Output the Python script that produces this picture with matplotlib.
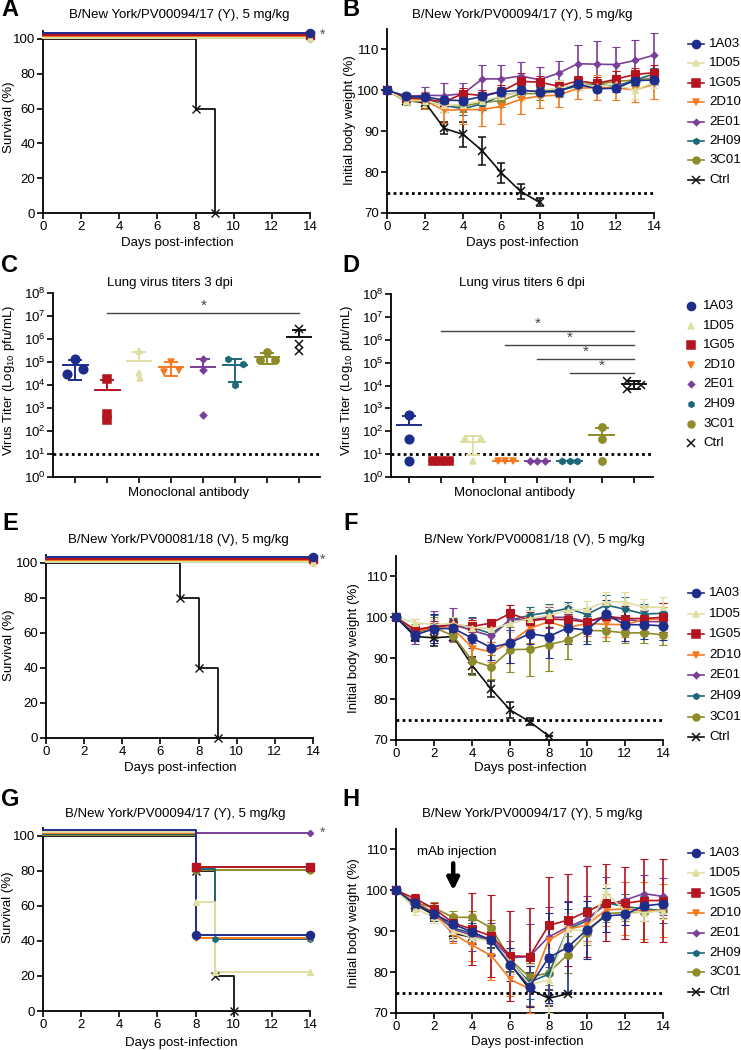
import numpy as np
import matplotlib
matplotlib.use('Agg')
import matplotlib.pyplot as plt
from matplotlib.lines import Line2D
from matplotlib.ticker import FixedLocator, NullFormatter

plt.rcParams['font.family'] = ['Liberation Sans', 'DejaVu Sans']
plt.rcParams['mathtext.fontset'] = 'custom'
plt.rcParams['mathtext.rm'] = 'Liberation Sans'
plt.rcParams['mathtext.it'] = 'Liberation Sans:italic'
plt.rcParams['mathtext.default'] = 'regular'

# ------------------------------------------------------------------ data
groups = ['1A03', '1D05', '1G05', '2D10', '2E01', '2H09', '3C01', 'Ctrl']
titer_order = ['1A03', '1G05', '1D05', '2D10', '2E01', '2H09', '3C01', 'Ctrl']
days = list(range(15))

# survival: event days and survival (%)
A_surv_days = {g: [0] for g in groups[:-1]}
A_surv_vals = {g: [100] for g in groups[:-1]}
A_surv_days['Ctrl'] = [0, 8, 9]
A_surv_vals['Ctrl'] = [100, 60, 0]

E_surv_days = {g: [0] for g in groups[:-1]}
E_surv_vals = {g: [100] for g in groups[:-1]}
E_surv_days['Ctrl'] = [0, 7, 8, 9]
E_surv_vals['Ctrl'] = [100, 80, 40, 0]

G_surv_days = {'1A03': [0, 8], '1D05': [0, 8, 9], '1G05': [0, 8], '2D10': [0, 8],
               '2E01': [0], '2H09': [0, 8, 9], '3C01': [0, 8], 'Ctrl': [0, 8, 9, 10]}
G_surv_vals = {'1A03': [100, 40], '1D05': [100, 60, 20], '1G05': [100, 80], '2D10': [100, 40],
               '2E01': [100], '2H09': [100, 80, 40], '3C01': [100, 80], 'Ctrl': [100, 80, 20, 0]}

# body weight (%), mean and SD
B_mean = {
    '1A03': [100, 98.6, 98.4, 97.6, 97.5, 98.5, 99.7, 100, 99.7, 99.7, 101.5, 100.4, 100.5, 102.4, 102.5],
    '1D05': [100, 97.5, 97.5, 96.3, 96.5, 97.5, 98.5, 99.7, 100, 100.5, 101.5, 101, 101.5, 100, 102],
    '1G05': [100, 98.2, 97.8, 97.2, 99.2, 98.7, 99.7, 102.2, 102, 101, 102.3, 101.7, 102.7, 103.9, 104.3],
    '2D10': [100, 98, 97.5, 95.1, 95.3, 95.3, 96.1, 97.8, 98.6, 98.8, 100.5, 100.7, 100.6, 100.1, 101.5],
    '2E01': [100, 98.5, 98.8, 98.7, 99.2, 102.8, 102.8, 103.5, 102.6, 104.2, 106.5, 106.4, 106.3, 107.3, 108.6],
    '2H09': [100, 98.2, 98.2, 96.3, 95.5, 96.7, 98.7, 99.6, 100, 100, 101, 101.5, 101, 102.5, 104],
    '3C01': [100, 97.3, 97.5, 96.3, 96.2, 97, 97.5, 99.2, 99.2, 99.8, 101.5, 101.5, 102.2, 102.5, 103],
    'Ctrl': [100, 97.5, 97, 90.7, 89.2, 85.2, 79.8, 75.3, 72.6],
}
B_sd = {
    '1A03': [0, 0.8, 1, 1.2, 1.2, 1.2, 1.2, 1, 1.2, 1.2, 1, 0.8, 1, 1.2, 1.2],
    '1D05': [0, 1, 1.5, 1.5, 1.5, 1.5, 1.5, 2, 1.5, 2, 1.5, 1.5, 1.5, 2, 1.5],
    '1G05': [0, 1, 1, 1, 1.3, 1.3, 1.5, 2, 1.5, 1.5, 1.2, 1.5, 2, 1.5, 2],
    '2D10': [0, 1, 2, 3, 3.5, 4, 4.3, 3.5, 3, 2.8, 2.5, 3, 3, 3, 3.5],
    '2E01': [0, 0.8, 2, 3, 2.5, 3.3, 3.3, 3.5, 3, 3, 4.5, 5.7, 4.2, 5, 5.5],
    '2H09': [0, 1, 1.5, 1.5, 1.5, 1.5, 1.5, 1.2, 1, 1, 1, 1, 1, 1.2, 1.5],
    '3C01': [0, 1, 1, 1.5, 1.5, 1.5, 1.5, 1.5, 1.5, 1.5, 1.5, 1, 1.5, 1.5, 1.5],
    'Ctrl': [0, 1, 1.5, 1.5, 3, 3.5, 2.5, 1.8, 1],
}

F_mean = {
    '1A03': [100, 95.7, 97.2, 97.3, 94.9, 92.6, 93.8, 96, 95.3, 97.4, 96.9, 100.8, 98.2, 98.2, 97.9],
    '1D05': [100, 98.7, 98.2, 98.5, 97.5, 97.2, 98.5, 99.7, 100.5, 101.7, 102, 103.8, 103.8, 102.5, 102.5],
    '1G05': [100, 97, 97.7, 98.1, 97.8, 98.6, 101, 99.2, 99.6, 99.4, 98.9, 100.3, 99.7, 99.7, 100],
    '2D10': [100, 96.5, 97.5, 97.2, 92.6, 91.5, 93.9, 97.3, 98.9, 97.5, 98.5, 98.3, 98.2, 99.5, 99.5],
    '2E01': [100, 96.5, 98, 98.2, 96.8, 95.4, 99.5, 99.3, 100, 100, 99, 99.8, 99.5, 99, 98.9],
    '2H09': [100, 96.3, 97.5, 98.3, 97.5, 96, 99.3, 100.5, 101.2, 102.2, 100.7, 103, 102, 100.8, 101],
    '3C01': [100, 96.3, 97.5, 95.5, 89.4, 87.9, 92.1, 92.2, 93.3, 94.4, 96.8, 96.7, 96.2, 96.2, 95.7],
    'Ctrl': [100, 95.3, 95, 95.3, 88.2, 82.4, 77.3, 74.5, 71],
}
F_sd = {
    '1A03': [0, 1.5, 3.5, 2, 2.5, 3, 5, 2.5, 5.3, 4, 3.5, 3.5, 4, 3.5, 3.5],
    '1D05': [0, 1, 1.5, 1.5, 1.5, 1.5, 2, 2, 2.5, 1.5, 2, 2.5, 2.5, 2, 2.5],
    '1G05': [0, 1, 1.5, 1.5, 1.5, 1, 2, 2, 2, 1.5, 2, 3, 3, 3, 3.5],
    '2D10': [0, 1.5, 2, 1.5, 3, 2.5, 5, 3.5, 3, 3, 3, 3, 3, 3, 3],
    '2E01': [0, 3, 3.5, 4, 3, 2.5, 2.5, 2.5, 2.5, 2.5, 3, 3, 2.5, 2.5, 2.5],
    '2H09': [0, 1.5, 3, 1.5, 2.5, 2, 2.5, 2, 2, 1.5, 1.5, 2.5, 3, 2.5, 2.5],
    '3C01': [0, 2, 2.5, 1.5, 3.5, 3, 5.5, 6.5, 6.5, 4.5, 2.5, 2.5, 2.5, 2.5, 2.5],
    'Ctrl': [0, 1, 2, 1, 2, 2, 2, 0.8, 0],
}

H_mean = {
    '1A03': [100, 96.8, 94.3, 91.7, 89.8, 87.8, 81.8, 76.4, 83.5, 86.1, 90.3, 93.7, 94.1, 96.2, 96.7],
    '1D05': [100, 95.5, 93.5, 90, 88.5, 87.5, 82.5, 77, 78, 90.5, 90, 99.5, 95, 94.5, 95],
    '1G05': [100, 98, 95.5, 92, 90.5, 88.8, 84, 83.8, 91.4, 92.7, 94.8, 97, 96.8, 97.5, 97.5],
    '2D10': [100, 97, 94.5, 89.3, 86.6, 84, 78.2, 75.9, 87.8, 90.5, 91.5, 95.2, 95.5, 95, 95],
    '2E01': [100, 97, 94.5, 90.5, 89, 88, 83.5, 83.8, 88.6, 91, 93, 96.5, 97.6, 99.2, 98.5],
    '2H09': [100, 96.5, 94.5, 90.8, 89.5, 87.5, 82.5, 77.5, 79.5, 90.5, 92.5, 97, 96, 95.5, 95],
    '3C01': [100, 97, 95.7, 93.4, 93.4, 90.8, 83, 78.8, 79.8, 84.3, 89.6, 94.3, 94.6, 94.6, 95.2],
    'Ctrl': [100, 96.5, 94, 89.5, 88.5, 87.8, 82, 75.8, 73.6, 74.7],
}
H_sd = {
    '1A03': [0, 1, 1, 2, 3, 3.5, 4, 5, 11, 11, 7, 4, 2.5, 2, 2],
    '1D05': [0, 1.5, 1.5, 2, 2, 2, 3, 5, 8, 4, 3, 2, 2, 2, 2],
    '1G05': [0, 1, 1.5, 2, 8.8, 10, 11, 12, 11.8, 11.2, 11.2, 9.5, 8.8, 10.1, 10.1],
    '2D10': [0, 1, 1.5, 2.2, 4, 6, 4, 6, 4, 4, 4, 4, 6.5, 7, 6.5],
    '2E01': [0, 1, 1.5, 3, 3.8, 4, 4, 8, 7.3, 6.5, 5.5, 6.8, 4.5, 4.5, 4.5],
    '2H09': [0, 1, 1.5, 2, 2.5, 3, 3, 4, 5, 5, 3.5, 3.5, 3, 3, 3],
    '3C01': [0, 1.5, 1.5, 1.5, 1.5, 2, 3, 3.5, 3, 4.5, 3, 2, 2, 2, 2],
    'Ctrl': [0, 1.5, 1.5, 1.5, 1.5, 2, 2, 4, 2, 0],
}

# lung titers (pfu/mL), individual mice
C_titer = {
    '1A03': [3.1e4, 1.35e5, 5.0e4],
    '1G05': [1.8e4, 560, 310],
    '1D05': [2.9e5, 3.3e4, 2.0e4],
    '2D10': [3.5e4, 1.05e5, 4.5e4],
    '2E01': [1.35e5, 4.7e4, 480],
    '2H09': [1.35e5, 1.03e4, 8.5e4],
    '3C01': [1.2e5, 2.6e5, 1.17e5],
    'Ctrl': [2.6e6, 6.3e5, 2.9e5],
}
D_titer = {
    '1A03': [490, 47, 5],
    '1G05': [5, 5, 5],
    '1D05': [50, 5, 50],
    '2D10': [5, 5, 5],
    '2E01': [5, 5, 5],
    '2H09': [5, 5, 5],
    '3C01': [148, 47, 5],
    'Ctrl': [1.6e4, 7.0e3, 1.1e4],
}
LOD = 10
C_sig = [(1, 7, 1.35e7)]
D_sig = [(1, 7, 2.4e6), (3, 7, 5.8e5), (4, 7, 1.4e5), (5, 7, 3.5e4)]

# ------------------------------------------------------------------ styles
colors = {'1A03': '#1F2D8A', '1D05': '#E0DFA3', '1G05': '#B3141E', '2D10': '#F7791F',
          '2E01': '#7A3F98', '2H09': '#1C6878', '3C01': '#8E8B2A', 'Ctrl': '#111111'}
mk = {'1A03': 'o', '1D05': '^', '1G05': 's', '2D10': 'v', '2E01': 'D', '2H09': 'h',
      '3C01': 'o', 'Ctrl': 'x'}
ms = {'1A03': 6.5, '1D05': 5, '1G05': 6, '2D10': 5, '2E01': 3.5, '2H09': 4.5,
      '3C01': 5.5, 'Ctrl': 6}
surv_offset_AE = {'1A03': 3.3, '2E01': 2.8, '1G05': 2.3, '2D10': 1.8, '2H09': 1.2,
                  '1D05': 0.7, '3C01': 0.3, 'Ctrl': 0}
surv_offset_G = {'1A03': 3.3, '1D05': 2.5, '1G05': 2.3, '2D10': 1.8, '2E01': 1.5,
                 '2H09': 1.0, '3C01': 0.4, 'Ctrl': 0}
C_jit = {'1A03': [-0.26, 0, 0.24], '1G05': [0, 0, 0], '1D05': [0, -0.02, 0.03],
         '2D10': [-0.23, 0, 0.24], '2E01': [0, 0, 0], '2H09': [-0.24, 0, 0.24],
         '3C01': [-0.23, 0, 0.23], 'Ctrl': [0, 0, 0]}
D_jit = {'1A03': [0, 0, 0], '1G05': [-0.24, 0, 0.24], '1D05': [-0.24, 0, 0.24],
         '2D10': [-0.24, 0, 0.24], '2E01': [-0.24, 0, 0.24], '2H09': [-0.24, 0, 0.24],
         '3C01': [0, 0, 0], 'Ctrl': [-0.21, -0.21, 0.23]}

W, H = 741, 1050
fig = plt.figure(figsize=(W / 100, H / 100), dpi=100)
FS = 9
TFS = 9.5


def fx(px):
    return px / W


def fy(py):
    return 1 - py / H


def add_ax(x0, y0, x1, y1):
    return fig.add_axes([x0 / W, 1 - y1 / H, (x1 - x0) / W, (y1 - y0) / H])


def style(ax):
    for s in ['top', 'right']:
        ax.spines[s].set_visible(False)
    for s in ['left', 'bottom']:
        ax.spines[s].set_linewidth(1.3)
    ax.tick_params(direction='out', length=4, width=1.2, labelsize=TFS, pad=1.5)


def survival(ax, sdays, svals, offs):
    for g in reversed(groups):
        if g not in sdays:
            continue
        d = list(sdays[g])
        v = [s + offs[g] for s in svals[g]]
        last = v[-1]
        xs = d + ([14] if svals[g][-1] > 0 else [])
        ys = v + ([last] if svals[g][-1] > 0 else [])
        ax.step(xs, ys, where='post', color=colors[g], lw=1.4 if g != 'Ctrl' else 1.3,
                clip_on=False, zorder=3)
        px = d[1:] + ([14] if svals[g][-1] > 0 else [])
        py = v[1:] + ([last] if svals[g][-1] > 0 else [])
        ax.plot(px, py, ls='none', marker=mk[g], ms=ms[g] * 0.9, color=colors[g],
                mew=1.0, clip_on=False, zorder=4)
    ax.set_xlim(0, 14)
    ax.set_ylim(0, 104.5)
    ax.set_xticks(range(0, 15, 2))
    ax.set_yticks(range(0, 101, 20))
    style(ax)


def weights(ax, mean, sd):
    order = ['Ctrl'] + list(reversed(groups[:-1]))
    for g in order:
        m = np.array(mean[g])
        s = np.array(sd[g])
        x = np.arange(len(m))
        ax.errorbar(x, m, yerr=s, color=colors[g], lw=1.2, elinewidth=1.2, capsize=3,
                    capthick=1.2, marker=mk[g], ms=ms[g], mew=1.1 if g == 'Ctrl' else 0.8,
                    clip_on=False, zorder=3)
    ax.axhline(75, xmin=0, xmax=1, color='black', ls=(0, (1, 1.2)), lw=2, zorder=2)
    ax.set_xlim(0, 14)
    ax.set_ylim(70, 115)
    ax.set_xticks(range(0, 15, 2))
    ax.set_yticks([70, 80, 90, 100, 110])
    style(ax)


def titers(ax, data, jit, sigs, xlim):
    for i, g in enumerate(titer_order):
        pts = np.array(data[g], dtype=float)
        xs = i + np.array(jit[g])
        ax.plot(xs, pts, ls='none', marker=mk[g], ms=ms[g] * 0.95, color=colors[g],
                mew=1.1, zorder=4, clip_on=False)
        mu = pts.mean()
        sdv = pts.std(ddof=1)
        ax.plot([i - 0.38, i + 0.38], [mu, mu], color=colors[g], lw=1.4, zorder=3)
        hi = mu + sdv
        ax.plot([i, i], [mu, hi], color=colors[g], lw=1.4, zorder=3)
        ax.plot([i - 0.19, i + 0.19], [hi, hi], color=colors[g], lw=1.4, zorder=3)
        lo = mu - sdv
        if lo > 0:
            ax.plot([i, i], [lo, mu], color=colors[g], lw=1.4, zorder=3)
            ax.plot([i - 0.19, i + 0.19], [lo, lo], color=colors[g], lw=1.4, zorder=3)
    for a, b, y in sigs:
        ax.plot([a, b], [y, y], color='#444444', lw=1.0)
        ax.text((a + b) / 2, y * 10 ** 0.33, '*', ha='center', va='center', fontsize=11,
                color='#444444')
    ax.axhline(LOD, color='black', ls=(0, (1, 1.2)), lw=2, zorder=2)
    ax.set_yscale('log')
    ax.set_ylim(1, 1e8)
    ax.set_xlim(*xlim)
    ax.yaxis.set_major_locator(FixedLocator([10.0 ** k for k in range(9)]))
    ax.set_yticklabels(['10$^{%d}$' % k for k in range(9)])
    ax.yaxis.set_minor_locator(FixedLocator([]))
    ax.set_xticks(range(8))
    ax.xaxis.set_major_formatter(NullFormatter())
    style(ax)


def legend(y0, dy, xm0, xm1, xt, lines=True):
    for i, g in enumerate(groups):
        y = fy(y0 + i * dy)
        if lines:
            fig.add_artist(Line2D([fx(xm0), fx(xm1)], [y, y], transform=fig.transFigure,
                                  color=colors[g], lw=1.2))
        fig.add_artist(Line2D([fx((xm0 + xm1) / 2)], [y], transform=fig.transFigure,
                              marker=mk[g], ms=ms[g] * 0.9, color=colors[g], ls='none',
                              mew=1.1))
        fig.text(fx(xt), y, g, ha='left', va='center', fontsize=FS + 0.5)


def label(x, y, s, rot=0, **kw):
    fig.text(fx(x), fy(y), s, ha='center', va='center', rotation=rot, fontsize=FS + 0.5, **kw)


# ------------------------------------------------------------------ panels
axA = add_ax(43, 31, 310, 213)
survival(axA, A_surv_days, A_surv_vals, surv_offset_AE)
axB = add_ax(387, 29, 654, 213)
weights(axB, B_mean, B_sd)
axC = add_ax(53, 293, 320, 477)
titers(axC, C_titer, C_jit, C_sig, (-0.7, 7.65))
axD = add_ax(391, 294, 653, 477)
titers(axD, D_titer, D_jit, D_sig, (-0.56, 7.6))
axE = add_ax(46, 555, 313, 738)
survival(axE, E_surv_days, E_surv_vals, surv_offset_AE)
axF = add_ax(396, 556, 663, 740)
weights(axF, F_mean, F_sd)
axG = add_ax(43, 828, 310, 1011)
survival(axG, G_surv_days, G_surv_vals, surv_offset_G)
axH = add_ax(396, 829, 663, 1013)
weights(axH, H_mean, H_sd)
axH.annotate('', xy=(3, 99.3), xytext=(3, 107.3),
             arrowprops=dict(arrowstyle='-|>,head_width=0.35,head_length=0.7', lw=3.2,
                             color='black'))
axH.text(3.2, 109.3, 'mAb injection', ha='center', va='center', fontsize=FS + 0.5)

# significance stars next to survival plots
for yy in (35, 560, 833):
    fig.text(fx(323), fy(yy), '*', ha='center', va='center', fontsize=10, color='#555555')

# titles
label(179, 15, 'B/New York/PV00094/17 (Y), 5 mg/kg')
label(522, 15, 'B/New York/PV00094/17 (Y), 5 mg/kg')
label(170, 283, 'Lung virus titers 3 dpi')
label(522, 283, 'Lung virus titers 6 dpi')
label(178, 540, 'B/New York/PV00081/18 (V), 5 mg/kg')
label(534, 540, 'B/New York/PV00081/18 (V), 5 mg/kg')
label(175, 814, 'B/New York/PV00094/17 (Y), 5 mg/kg')
label(532, 814, 'B/New York/PV00094/17 (Y), 5 mg/kg')

# axis labels
for x, y in [(177, 243), (522, 243), (180, 768), (530, 768), (181, 1043), (527, 1042)]:
    label(x, y, 'Days post-infection')
label(188, 493, 'Monoclonal antibody')
label(514, 493, 'Monoclonal antibody')
label(9, 117, 'Survival (%)', rot=90)
label(9, 645, 'Survival (%)', rot=90)
label(8, 907, 'Survival (%)', rot=90)
label(350, 120, 'Initial body weight (%)', rot=90)
label(354, 648, 'Initial body weight (%)', rot=90)
label(354, 923, 'Initial body weight (%)', rot=90)
label(9, 380, 'Virus Titer (Log$_{10}$ pfu/mL)', rot=90)
label(347, 380, 'Virus Titer (Log$_{10}$ pfu/mL)', rot=90)

# legends
legend(44, 19.4, 688, 704, 709)
legend(306, 19.6, 685, 697, 703, lines=False)
legend(593, 20.6, 688, 704, 709)
legend(853, 19.9, 688, 704, 709)

# panel letters
for s, x, y in [('A', 10, 10), ('B', 351, 10), ('C', 10, 265), ('D', 351, 265),
                ('E', 10, 523), ('F', 351, 523), ('G', 10, 800), ('H', 351, 800)]:
    fig.text(fx(x), fy(y), s, ha='center', va='center', fontsize=17, fontweight='bold')

fig.savefig('out.png', dpi=100)
